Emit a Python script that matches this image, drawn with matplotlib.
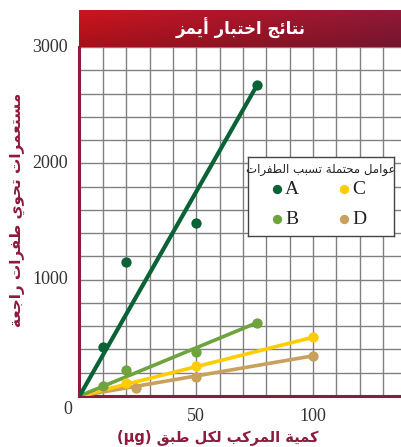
import matplotlib
matplotlib.use("Agg")
import matplotlib.pyplot as plt
import numpy as np

# ---------------- data ----------------
series_names = ["A", "B", "C", "D"]
A_x = [10, 20, 50, 76]
A_y = [425, 1150, 1490, 2670]
B_x = [10, 20, 50, 76]
B_y = [90, 225, 375, 630]
C_x = [20, 50, 100]
C_y = [110, 260, 505]
D_x = [24, 50, 100]
D_y = [70, 165, 345]
x_ticks = [50, 100]
y_ticks = [1000, 2000, 3000]

title_text = "نتائج اختبار أيمز"
ylabel_text = "مستعمرات تحوي طفرات راجعة"
xlabel_ar = "كمية المركب لكل طبق"
xlabel_unit = "(μg)"
legend_title = "عوامل محتملة تسبب الطفرات"

colors = {"A": "#0a6236", "B": "#6ea33d", "C": "#ffcc00", "D": "#c9a05c"}
dark_red = "#8c1b3c"

# ---------------- minimal Arabic shaping (presentation forms) ----------------
DUAL = {0x0626: 0xFE89, 0x0628: 0xFE8F, 0x062A: 0xFE95, 0x062B: 0xFE99, 0x062C: 0xFE9D,
        0x062D: 0xFEA1, 0x062E: 0xFEA5, 0x0633: 0xFEB1, 0x0634: 0xFEB5, 0x0635: 0xFEB9,
        0x0636: 0xFEBD, 0x0637: 0xFEC1, 0x0638: 0xFEC5, 0x0639: 0xFEC9, 0x063A: 0xFECD,
        0x0641: 0xFED1, 0x0642: 0xFED5, 0x0643: 0xFED9, 0x0644: 0xFEDD, 0x0645: 0xFEE1,
        0x0646: 0xFEE5, 0x0647: 0xFEE9, 0x064A: 0xFEF1}
RIGHT = {0x0622: 0xFE81, 0x0623: 0xFE83, 0x0624: 0xFE85, 0x0625: 0xFE87, 0x0627: 0xFE8D,
         0x0629: 0xFE93, 0x062F: 0xFEA9, 0x0630: 0xFEAB, 0x0631: 0xFEAD, 0x0632: 0xFEAF,
         0x0648: 0xFEED, 0x0649: 0xFEEF}


def is_ar(c):
    return ord(c) in DUAL or ord(c) in RIGHT


def shape(s):
    out = []
    for i, ch in enumerate(s):
        o = ord(ch)
        if not is_ar(ch):
            out.append(ch)
            continue
        prev = s[i - 1] if i > 0 else None
        nxt = s[i + 1] if i + 1 < len(s) else None
        jp = prev is not None and ord(prev) in DUAL
        jn = o in DUAL and nxt is not None and is_ar(nxt)
        base = DUAL.get(o, RIGHT.get(o))
        if jp and jn:
            f = base + 3
        elif jn:
            f = base + 2
        elif jp:
            f = base + 1
        else:
            f = base
        out.append(chr(f))
    return "".join(out)[::-1]


AR_FONT = ["DejaVu Sans"]
SERIF = ["Liberation Serif", "DejaVu Serif"]

# ---------------- figure ----------------
W, H = 402, 447
fig = plt.figure(figsize=(W / 100, H / 100), dpi=100)


def fx(px):
    return px / W


def fy(py):
    return 1 - py / H


ax_l, ax_r, ax_t, ax_b = 79.5, 402, 47, 396
ax = fig.add_axes([fx(ax_l), fy(ax_b), fx(ax_r - ax_l), (ax_b - ax_t) / H])
xmax = (ax_r - ax_l) / (313 - ax_l) * 100
ax.set_xlim(0, xmax)
ax.set_ylim(0, 3000)

ax.set_xticks(np.arange(10, xmax, 10))
ax.set_yticks(np.arange(200, 3001, 200))
ax.grid(True, color="#808080", linewidth=1.0)
ax.set_axisbelow(True)
ax.tick_params(length=0, labelleft=False, labelbottom=False)
for side in ["top", "right"]:
    ax.spines[side].set_visible(False)
for side in ["left", "bottom"]:
    ax.spines[side].set_color(dark_red)
    ax.spines[side].set_linewidth(2.2)

data = {"A": (A_x, A_y), "B": (B_x, B_y), "C": (C_x, C_y), "D": (D_x, D_y)}
lw = {"A": 3.0, "B": 2.6, "C": 2.6, "D": 2.6}
for name in ["D", "C", "B", "A"]:
    xs, ys = data[name]
    ax.plot([0, xs[-1]], [0, ys[-1]], color=colors[name], lw=lw[name], solid_capstyle="round", zorder=3)
    ax.scatter(xs, ys, s=55, color=colors[name], zorder=4, linewidths=0)

# tick labels
for t in y_ticks:
    ax.text(-0.035, t, str(t), transform=ax.get_yaxis_transform(), ha="right", va="center",
            fontsize=13, family=SERIF, color="#333333")
for t in x_ticks:
    ax.text(t, -0.035, str(t), transform=ax.get_xaxis_transform(), ha="center", va="top",
            fontsize=13, family=SERIF, color="#333333")
fig.text(fx(68), fy(410), "0", ha="center", va="center", fontsize=13, family=SERIF, color="#333333")

# title bar with gradient
tax = fig.add_axes([fx(ax_l), fy(47), fx(ax_r - ax_l), 37 / H])
grad_x = np.linspace(0, 1, 256)
c1 = np.array([0.80, 0.08, 0.12])
c2 = np.array([0.56, 0.10, 0.22])
img = (c1[None, :] * (1 - grad_x[:, None]) + c2[None, :] * grad_x[:, None])[None, :, :]
vert = np.linspace(1.0, 0.82, 20)[:, None, None]
img = np.clip(img * vert, 0, 1)
tax.imshow(img, aspect="auto", extent=[0, 1, 0, 1])
tax.set_axis_off()
tax.text(0.5, 0.5, shape(title_text), color="white", fontsize=12, fontweight="bold",
         ha="center", va="center", family=AR_FONT)

# axis labels
fig.text(fx(17), fy(210), shape(ylabel_text), rotation=90, ha="center", va="center",
         fontsize=11, fontweight="bold", color=dark_red, family=AR_FONT)
fig.text(fx(218), fy(437), xlabel_unit + " " + shape(xlabel_ar), ha="center", va="center",
         fontsize=10.5, fontweight="bold", color=dark_red, family=AR_FONT)

# legend box
lx0, ly0, lx1, ly1 = 248, 157, 394, 236
lax = fig.add_axes([fx(lx0), fy(ly1), fx(lx1 - lx0), (ly1 - ly0) / H])
lax.set_xlim(lx0, lx1)
lax.set_ylim(ly1, ly0)
lax.set_xticks([])
lax.set_yticks([])
for sp in lax.spines.values():
    sp.set_color("#444444")
    sp.set_linewidth(1.0)
lax.text((lx0 + lx1) / 2, 170, shape(legend_title), ha="center", va="center", fontsize=8.5,
         family=AR_FONT, color="#222222")
pos = {"A": (277, 189), "C": (344, 189), "B": (277, 219), "D": (344, 219)}
for name in series_names:
    px, py = pos[name]
    lax.scatter([px], [py], s=45, color=colors[name], linewidths=0)
    lax.text(px + 8, py + 1, name, ha="left", va="center", fontsize=14, family=SERIF, color="#222222")

fig.savefig("out.png", dpi=100)
